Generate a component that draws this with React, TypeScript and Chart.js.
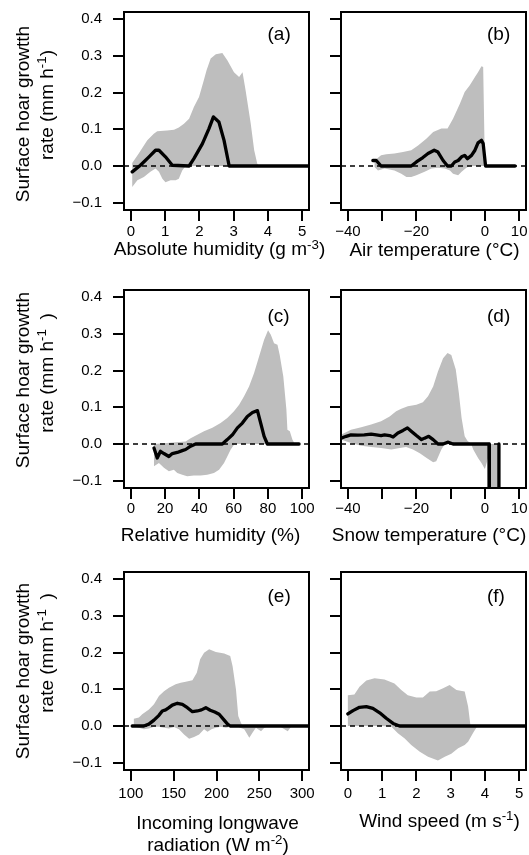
import React, { useEffect, useRef } from "react";
import { Chart, registerables } from "chart.js";

Chart.register(...registerables);

const FONT = '"Liberation Sans", Arial, Helvetica, sans-serif';

// ---------- shared y axis ----------
const yTicks = [-0.1, 0, 0.1, 0.2, 0.3, 0.4];
const yTickLabels = ["\u22120.1", "0.0", "0.1", "0.2", "0.3", "0.4"];
const yMin = -0.12;
const yMax = 0.42;

// ---------- (a) absolute humidity ----------
const aTicks = [0, 1, 2, 3, 4, 5];
const aTickLabels = ["0", "1", "2", "3", "4", "5"];
const aLineX = [0.04, 0.28, 0.53, 0.72, 0.82, 1.01, 1.21, 1.7, 1.84, 2.09, 2.28, 2.41, 2.57, 2.72, 2.87, 3.5, 4.0, 4.5, 5.2];
const aLineY = [-0.016, 0.002, 0.025, 0.043, 0.043, 0.025, 0.002, 0, 0.02, 0.061, 0.102, 0.134, 0.12, 0.07, 0, 0, 0, 0, 0];
const aUpperX = [0.04, 0.23, 0.48, 0.67, 0.77, 1.06, 1.26, 1.4, 1.55, 1.7, 1.84, 1.99, 2.13, 2.21, 2.33, 2.48, 2.67, 2.82, 3.01, 3.16, 3.26, 3.35, 3.5, 3.6, 3.69, 3.74];
const aUpperY = [0.008, 0.034, 0.07, 0.088, 0.095, 0.097, 0.099, 0.105, 0.115, 0.129, 0.161, 0.188, 0.234, 0.261, 0.293, 0.305, 0.308, 0.288, 0.256, 0.243, 0.256, 0.206, 0.115, 0.043, 0.006, 0];
const aLowerX = [0.04, 0.19, 0.38, 0.57, 0.72, 0.82, 0.92, 1.01, 1.16, 1.31, 1.4, 1.5, 1.6, 2.5, 3.74];
const aLowerY = [-0.057, -0.039, -0.03, -0.016, -0.007, -0.016, -0.035, -0.044, -0.039, -0.039, -0.035, -0.012, 0, 0, 0];

// ---------- (b) air temperature ----------
const tempTicks = [-40, -30, -20, -10, 0, 10];
const tempTickLabels = ["\u221240", "", "\u221220", "", "0", "10"];
const bLineX = [-32.7, -31.7, -30.3, -21.5, -20.0, -18.1, -16.6, -14.8, -13.7, -12.2, -10.9, -9.8, -8.8, -7.8, -6.8, -5.9, -5.1, -3.9, -2.9, -2.0, -1.0, -0.5, 0.2, 8.8];
const bLineY = [0.015, 0.015, 0, 0, 0.011, 0.023, 0.034, 0.043, 0.038, 0.015, 0, 0, 0.011, 0.015, 0.025, 0.029, 0.02, 0.029, 0.043, 0.063, 0.07, 0.061, 0, 0];
const bUpperX = [-32.2, -30.3, -28.8, -26.4, -23.9, -21.5, -19.5, -17.1, -15.1, -12.7, -10.9, -9.3, -7.3, -5.9, -4.4, -2.9, -2.0, -1.0, -0.5, 0.0];
const bUpperY = [0.015, 0.029, 0.032, 0.034, 0.038, 0.043, 0.056, 0.074, 0.093, 0.102, 0.102, 0.129, 0.17, 0.202, 0.22, 0.243, 0.256, 0.272, 0.27, 0];
const bLowerX = [-32.2, -31.2, -29.3, -26.4, -24.4, -22.9, -21.5, -20.0, -17.6, -15.6, -13.7, -11.7, -10.2, -9.3, -7.8, -6.8, -5.4, -4.4, 0.0];
const bLowerY = [-0.003, -0.012, -0.007, -0.012, -0.021, -0.03, -0.03, -0.025, -0.016, -0.007, -0.005, -0.007, -0.012, -0.021, -0.025, -0.016, -0.005, 0, 0];

// ---------- (c) relative humidity ----------
const cTicks = [0, 20, 40, 60, 80, 100];
const cTickLabels = ["0", "20", "40", "60", "80", "100"];
const cLineX = [13.5, 15.4, 17.3, 19.3, 22.2, 24.2, 27.1, 30.0, 32.0, 34.9, 37.8, 53.4, 56.3, 59.3, 62.2, 65.1, 68.0, 71.0, 73.9, 75.8, 77.8, 79.7, 98.2];
const cLineY = [-0.011, -0.038, -0.02, -0.026, -0.034, -0.026, -0.023, -0.018, -0.015, -0.006, 0, 0, 0.012, 0.025, 0.044, 0.057, 0.075, 0.086, 0.091, 0.057, 0.021, 0, 0];
const cUpperX = [13.5, 32.0, 34.9, 38.8, 42.7, 47.6, 52.4, 56.3, 60.2, 63.2, 66.1, 69.0, 71.9, 74.9, 77.8, 80.1, 81.7, 83.6, 85.6, 86.9, 89.0, 90.8, 91.4, 92.8, 94.3, 95.7];
const cUpperY = [0, 0.007, 0.016, 0.025, 0.035, 0.044, 0.057, 0.071, 0.089, 0.107, 0.13, 0.157, 0.193, 0.239, 0.284, 0.31, 0.298, 0.275, 0.271, 0.243, 0.184, 0.094, 0.039, 0.035, 0.012, 0];
const cLowerX = [13.5, 16.4, 19.3, 22.2, 25.1, 27.1, 30.0, 32.9, 36.8, 40.7, 44.6, 48.5, 51.5, 54.4, 56.3, 58.3, 60.2, 62.2, 95.7];
const cLowerY = [-0.061, -0.052, -0.065, -0.074, -0.07, -0.079, -0.084, -0.088, -0.086, -0.086, -0.084, -0.079, -0.07, -0.052, -0.034, -0.015, -0.002, 0, 0];

// ---------- (d) snow temperature ----------
const dLineX = [-42.0, -40.5, -39.1, -37.1, -35.2, -33.2, -31.7, -30.3, -29.3, -27.8, -26.8, -25.4, -23.9, -22.6, -21.5, -20.0, -18.5, -17.6, -16.4, -15.1, -13.7, -12.2, -10.7, -9.3, 1.2, 1.3, 4.0, 4.1];
const dLineY = [0.016, 0.021, 0.025, 0.024, 0.025, 0.027, 0.025, 0.023, 0.025, 0.023, 0.019, 0.03, 0.037, 0.044, 0.035, 0.023, 0.012, 0.016, 0.021, 0.012, 0, 0, 0.005, 0, 0, -0.6, -0.6, 0];
const dUpperX = [-42.0, -39.1, -36.1, -33.2, -30.3, -27.8, -25.9, -24.4, -22.5, -20.0, -18.1, -16.6, -15.1, -13.7, -12.2, -10.9, -9.8, -8.5, -7.6, -6.8, -5.9, -5.1, -3.9, 4.1];
const dUpperY = [0.025, 0.039, 0.046, 0.053, 0.062, 0.075, 0.089, 0.096, 0.103, 0.107, 0.114, 0.13, 0.157, 0.198, 0.234, 0.248, 0.243, 0.203, 0.139, 0.071, 0.021, 0.009, 0, 0];
const dLowerX = [-42.0, -39.1, -36.1, -33.2, -30.3, -27.3, -24.4, -23.0, -21.0, -19.0, -17.0, -15.1, -14.2, -12.7, -11.7, -4.0, -3.4, -2.0, -1.0, 0.0, 1.2, 1.25, 4.05, 4.1];
const dLowerY = [0.012, 0.003, -0.005, -0.008, -0.011, -0.015, -0.01, -0.008, -0.015, -0.025, -0.038, -0.05, -0.047, -0.015, 0, 0, -0.015, -0.038, -0.052, -0.068, -0.03, -0.6, -0.6, 0];

// ---------- (e) incoming longwave ----------
const eTicks = [100, 150, 200, 250, 300];
const eTickLabels = ["100", "150", "200", "250", "300"];
const eLineX = [101.6, 115.2, 121.0, 127.0, 132.8, 136.7, 140.6, 144.5, 148.4, 154.3, 160.2, 166.0, 171.9, 177.7, 182.4, 187.5, 192.6, 198.0, 203.1, 208.2, 212.9, 216.0, 250, 308];
const eLineY = [0, 0, 0.005, 0.016, 0.029, 0.041, 0.044, 0.05, 0.057, 0.062, 0.059, 0.05, 0.039, 0.041, 0.044, 0.05, 0.043, 0.038, 0.032, 0.018, 0.005, 0, 0, 0];
const eUpperX = [103.5, 109.4, 113.3, 121.1, 127.0, 132.8, 138.7, 144.5, 152.3, 158.2, 164.1, 171.9, 177.0, 180.9, 185.5, 191.4, 199.2, 209.0, 216.0, 218.8, 222.7, 225.4, 228.5, 230.5, 290];
const eUpperY = [0.02, 0.023, 0.032, 0.045, 0.059, 0.082, 0.095, 0.104, 0.114, 0.118, 0.121, 0.125, 0.145, 0.182, 0.2, 0.209, 0.202, 0.198, 0.191, 0.163, 0.1, 0.027, 0.009, 0, 0];
const eLowerX = [103.5, 109.4, 115.2, 121.1, 127.0, 132.8, 138.7, 144.5, 150.4, 156.2, 162.1, 168.0, 173.8, 179.7, 185.5, 189.5, 194.1, 199.2, 205.0, 211.0, 216.8, 224.6, 232.4, 238.3, 242.2, 246.0, 252.0, 255.9, 261.7, 267.6, 275.0, 283.2, 287.1, 290];
const eLowerY = [0, -0.005, -0.009, -0.007, -0.002, -0.002, -0.005, -0.007, -0.003, -0.009, -0.023, -0.035, -0.03, -0.023, -0.009, -0.016, -0.009, -0.005, -0.002, -0.005, -0.002, -0.002, -0.009, -0.032, -0.018, -0.005, -0.014, -0.005, 0, 0, -0.003, -0.014, -0.002, 0];

// ---------- (f) wind speed ----------
const fLineX = [0.0, 0.15, 0.34, 0.54, 0.73, 0.93, 1.12, 1.32, 1.51, 3.0, 5.2];
const fLineY = [0.033, 0.042, 0.051, 0.053, 0.048, 0.036, 0.021, 0.007, 0, 0, 0];
const fUpperX = [0.0, 0.19, 0.34, 0.54, 0.78, 1.07, 1.36, 1.56, 1.75, 2.0, 2.19, 2.39, 2.58, 2.78, 2.97, 3.17, 3.41, 3.51, 3.58];
const fUpperY = [0.084, 0.086, 0.107, 0.124, 0.13, 0.127, 0.116, 0.098, 0.084, 0.078, 0.078, 0.094, 0.095, 0.103, 0.112, 0.098, 0.094, 0.053, 0];
const fLowerX = [0.0, 1.0, 1.27, 1.46, 1.66, 1.85, 2.1, 2.34, 2.63, 2.83, 3.02, 3.22, 3.41, 3.51, 3.65, 3.78];
const fLowerY = [0, 0, -0.002, -0.02, -0.034, -0.052, -0.07, -0.084, -0.094, -0.084, -0.076, -0.061, -0.052, -0.043, -0.02, 0];

// ---------- text ----------
const yTitleLine1 = "Surface hoar growtth";
const yTitleLine2Row1 = ["rate (mm h", "-1", ")"];
const yTitleLine2Other = ["rate (mm h", "-1", "\u2002)"];
const panelLabels = ["(a)", "(b)", "(c)", "(d)", "(e)", "(f)"];

// ---------- layout ----------
const BOX_W = 185;
const BOX_H = 198;
const COL_LEFT = [124, 341];
const ROW_TOP = [12, 290, 572];
const Y_AXIS_W = [124, 14];
const PAD_T = 14;
const PAD_R = 16;
const X_AXIS_H = 44;
const TICK_LEN = 11;
const X_TICK_PAD = [2.0, 0.8, 3.7];
const TICK_FONT = 15;

const pts = (xs: number[], ys: number[]) => xs.map((x, i) => ({ x, y: ys[i] }));
const band = (ux: number[], uy: number[], lx: number[], ly: number[]) => [
  ...pts(ux, uy),
  ...pts(lx, ly).reverse(),
];

type PanelDef = {
  row: number;
  col: number;
  xMin: number;
  xMax: number;
  xTicks: number[];
  xLabels: string[];
  line: { x: number; y: number }[];
  shade: { x: number; y: number }[];
};

const panels: PanelDef[] = [
  { row: 0, col: 0, xMin: -0.2, xMax: 5.2, xTicks: aTicks, xLabels: aTickLabels, line: pts(aLineX, aLineY), shade: band(aUpperX, aUpperY, aLowerX, aLowerY) },
  { row: 0, col: 1, xMin: -42, xMax: 12, xTicks: tempTicks, xLabels: tempTickLabels, line: pts(bLineX, bLineY), shade: band(bUpperX, bUpperY, bLowerX, bLowerY) },
  { row: 1, col: 0, xMin: -4, xMax: 104, xTicks: cTicks, xLabels: cTickLabels, line: pts(cLineX, cLineY), shade: band(cUpperX, cUpperY, cLowerX, cLowerY) },
  { row: 1, col: 1, xMin: -42, xMax: 12, xTicks: tempTicks, xLabels: tempTickLabels, line: pts(dLineX, dLineY), shade: band(dUpperX, dUpperY, dLowerX, dLowerY) },
  { row: 2, col: 0, xMin: 92, xMax: 308, xTicks: eTicks, xLabels: eTickLabels, line: pts(eLineX, eLineY), shade: band(eUpperX, eUpperY, eLowerX, eLowerY) },
  { row: 2, col: 1, xMin: -0.2, xMax: 5.2, xTicks: aTicks, xLabels: aTickLabels, line: pts(fLineX, fLineY), shade: band(fUpperX, fUpperY, fLowerX, fLowerY) },
];

const boxPlugin = {
  id: "boxFrame",
  afterDraw(chart: any) {
    const { ctx, chartArea } = chart;
    ctx.save();
    ctx.strokeStyle = "#000";
    ctx.lineWidth = 2;
    ctx.strokeRect(chartArea.left, chartArea.top, chartArea.right - chartArea.left, chartArea.bottom - chartArea.top);
    ctx.restore();
  },
};

function Panel({ p }: { p: PanelDef }) {
  const ref = useRef<HTMLCanvasElement>(null);
  const yw = Y_AXIS_W[p.col];
  const cw = yw + BOX_W + PAD_R;
  const ch = PAD_T + BOX_H + X_AXIS_H;
  const left = COL_LEFT[p.col] - yw;
  const top = ROW_TOP[p.row] - PAD_T;

  useEffect(() => {
    const zeroPad = (s: any) => {
      s.paddingLeft = 0;
      s.paddingRight = 0;
      s.paddingTop = 0;
      s.paddingBottom = 0;
    };
    const gridOpts = {
      display: true,
      drawOnChartArea: false,
      drawTicks: true,
      tickLength: TICK_LEN,
      lineWidth: 2,
      color: "#000",
    };
    const chart = new Chart(ref.current as HTMLCanvasElement, {
      type: "line",
      data: {
        datasets: [
          {
            data: p.line,
            borderColor: "#000",
            borderWidth: 3.3,
            pointRadius: 0,
            tension: 0,
            fill: false,
            borderJoinStyle: "round",
            borderCapStyle: "round",
          },
          {
            data: [
              { x: p.xMin, y: 0 },
              { x: p.xMax, y: 0 },
            ],
            borderColor: "#000",
            borderWidth: 1.6,
            borderDash: [5, 4],
            pointRadius: 0,
            fill: false,
          },
          {
            data: p.shade,
            borderColor: "rgba(0,0,0,0)",
            borderWidth: 0,
            backgroundColor: "#BEBEBE",
            pointRadius: 0,
            tension: 0,
            fill: "shape",
          },
        ],
      } as any,
      options: {
        animation: false,
        responsive: false,
        events: [],
        layout: { padding: { left: 0, top: PAD_T, right: PAD_R, bottom: 0 } },
        plugins: {
          legend: { display: false },
          tooltip: { enabled: false },
          title: { display: false },
        },
        scales: {
          x: {
            type: "linear",
            min: p.xMin,
            max: p.xMax,
            afterBuildTicks: (s: any) => {
              s.ticks = p.xTicks.map((v) => ({ value: v }));
            },
            afterFit: (s: any) => {
              s.height = X_AXIS_H;
              zeroPad(s);
            },
            ticks: {
              autoSkip: false,
              maxRotation: 0,
              minRotation: 0,
              padding: X_TICK_PAD[p.row],
              color: "#000",
              font: { family: FONT, size: TICK_FONT },
              callback: (_v: any, i: number) => p.xLabels[i],
            },
            grid: gridOpts,
            border: { display: false },
          },
          y: {
            type: "linear",
            min: yMin,
            max: yMax,
            afterBuildTicks: (s: any) => {
              s.ticks = yTicks.map((v) => ({ value: v }));
            },
            afterFit: (s: any) => {
              s.width = yw;
              zeroPad(s);
            },
            ticks: {
              autoSkip: false,
              padding: 11,
              color: "#000",
              font: { family: FONT, size: TICK_FONT },
              callback: (_v: any, i: number) => (p.col === 0 ? yTickLabels[i] : ""),
            },
            grid: gridOpts,
            border: { display: false },
          },
        },
      } as any,
      plugins: [boxPlugin],
    });
    return () => chart.destroy();
  }, []);

  return (
    <canvas
      ref={ref}
      width={cw}
      height={ch}
      style={{ position: "absolute", left, top, width: cw, height: ch }}
    />
  );
}

const supStyle: React.CSSProperties = {
  fontSize: "0.7em",
  position: "relative",
  top: "-0.5em",
};

function Rich({ parts }: { parts: string[] }) {
  return (
    <>
      {parts.map((s, i) =>
        i % 2 === 1 ? (
          <span key={i} style={supStyle}>
            {s}
          </span>
        ) : (
          <React.Fragment key={i}>{s}</React.Fragment>
        )
      )}
    </>
  );
}

const textBase: React.CSSProperties = {
  position: "absolute",
  whiteSpace: "nowrap",
  fontFamily: FONT,
  fontSize: 19,
  lineHeight: "19px",
  color: "#000",
};

function Centered({ cx, cy, rotate, children }: { cx: number; cy: number; rotate?: boolean; children: any }) {
  return (
    <div
      style={{
        ...textBase,
        left: cx,
        top: cy,
        transform: rotate ? "translate(-50%,-50%) rotate(-90deg)" : "translate(-50%,-50%)",
      }}
    >
      {children}
    </div>
  );
}

// axis title anchors (centres)
const yTitle1Y = [114, 380, 671];
const yTitle2Y = [105, 373, 653];
const xTitles: { cx: number; cy: number; parts: string[] }[] = [
  { cx: 219.5, cy: 249.3, parts: ["Absolute humidity (g m", "-3", ")"] },
  { cx: 434.5, cy: 249.3, parts: ["Air temperature (\u00B0C)"] },
  { cx: 210.5, cy: 534, parts: ["Relative humidity (%)"] },
  { cx: 429, cy: 534, parts: ["Snow temperature (\u00B0C)"] },
  { cx: 217.5, cy: 821.5, parts: ["Incoming longwave"] },
  { cx: 218, cy: 845, parts: ["radiation (W m", "-2", ")"] },
  { cx: 439.5, cy: 820.5, parts: ["Wind speed (m s", "-1", ")"] },
];
const labelLeft = [267.5, 487];
const labelCY = [33.2, 314.5, 595];

export default function App() {
  return (
    <div
      style={{
        position: "fixed",
        left: 0,
        top: 0,
        width: 529,
        height: 855,
        overflow: "hidden",
        background: "#fff",
      }}
    >
      {panels.map((p, i) => (
        <Panel key={i} p={p} />
      ))}
      {[0, 1, 2].map((r) => (
        <React.Fragment key={"yt" + r}>
          <Centered cx={21.7} cy={yTitle1Y[r]} rotate>
            {yTitleLine1}
          </Centered>
          <Centered cx={46.7} cy={yTitle2Y[r]} rotate>
            <Rich parts={r === 0 ? yTitleLine2Row1 : yTitleLine2Other} />
          </Centered>
        </React.Fragment>
      ))}
      {xTitles.map((t, i) => (
        <Centered key={"xt" + i} cx={t.cx} cy={t.cy}>
          <Rich parts={t.parts} />
        </Centered>
      ))}
      {panels.map((p, i) => (
        <div
          key={"pl" + i}
          style={{
            ...textBase,
            left: labelLeft[p.col],
            top: labelCY[p.row],
            transform: "translateY(-50%)",
          }}
        >
          {panelLabels[i]}
        </div>
      ))}
    </div>
  );
}
